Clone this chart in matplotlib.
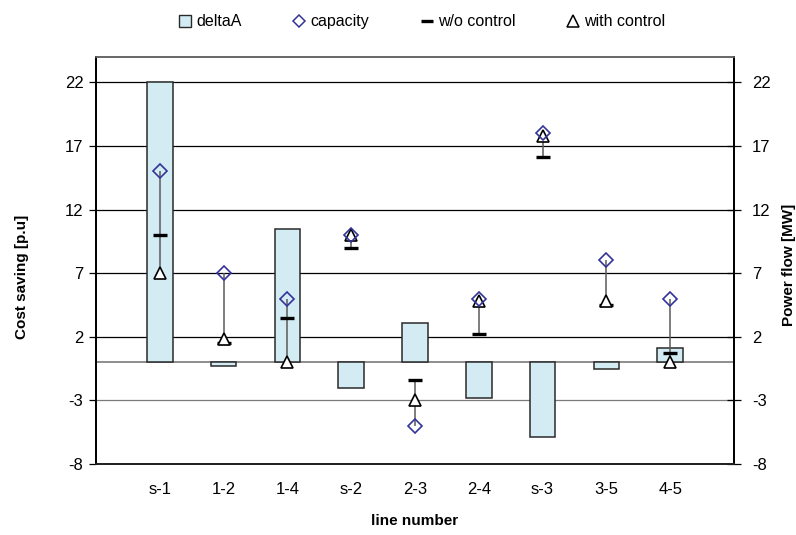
import matplotlib
matplotlib.use("Agg")
import matplotlib.pyplot as plt
import numpy as np
from matplotlib.lines import Line2D
from matplotlib.patches import Patch

plt.rcParams['font.family'] = ['Liberation Sans', 'DejaVu Sans']
plt.rcParams['axes.unicode_minus'] = False

# Line identifiers
lines = ["s-1", "1-2", "1-4", "s-2", "2-3", "2-4", "s-3", "3-5", "4-5"]

# Cost saving per line [p.u] (bars, left axis)
delta_a = [22.0, -0.3, 10.5, -2.0, 3.1, -2.8, -5.9, -0.5, 1.1]

# Power flow quantities per line [MW] (right axis)
capacity = [15.0, 7.0, 5.0, 10.0, -5.0, 5.0, 18.0, 8.0, 5.0]
without_control = [10.0, 1.5, 3.5, 9.0, -1.4, 2.2, 16.1, 4.5, 0.7]
with_control = [7.0, 1.8, 0.0, 10.0, -3.0, 4.8, 17.8, 4.8, 0.0]

y_ticks = [-8, -3, 2, 7, 12, 17, 22]
y_limits = (-8, 24)

fig = plt.figure(figsize=(7.96, 5.35), dpi=100)
ax = fig.add_axes([0.1206, 0.1327, 0.8015, 0.7608])
ax2 = ax.twinx()

x = np.arange(1, len(lines) + 1)

# horizontal grid
for t in y_ticks[1:]:
    col = "black" if t > 0 else "#7a7a7a"
    ax.axhline(t, color=col, lw=0.9, zorder=0)
ax.axhline(0, color="#7a7a7a", lw=1.2, zorder=0.5)

ax.bar(x, delta_a, width=0.4, color="#D3ECF3", edgecolor="#2a2a2a",
       linewidth=1.1, zorder=2)

ax.set_xlim(0, len(lines) + 1)
ax.set_ylim(*y_limits)
ax.set_yticks(y_ticks)
ax.set_xticks(x)
ax.set_xticklabels(lines)
ax.tick_params(axis="x", length=0, pad=13, labelsize=12)
ax.tick_params(axis="y", direction="out", length=5, width=0.9, labelsize=12, pad=4)

ax2.set_ylim(*y_limits)
ax2.set_yticks(y_ticks)
ax2.tick_params(axis="y", direction="inout", length=10, width=0.9, labelsize=12, pad=8)

# high-low connectors across the three flow series
cap = np.array(capacity)
wo = np.array(without_control)
wc = np.array(with_control)
hi = np.maximum.reduce([cap, wo, wc])
lo = np.minimum.reduce([cap, wo, wc])
ax2.vlines(x, lo, hi, color="#5a5a5a", lw=1.1, zorder=3)

ax2.plot(x, wo, linestyle="none", marker="_", markersize=9.5,
         markeredgewidth=2.4, color="black", zorder=4)
ax2.plot(x, wc, linestyle="none", marker="^", markersize=8.5,
         markerfacecolor="white", markeredgecolor="black",
         markeredgewidth=1.2, zorder=5)
ax2.plot(x, cap, linestyle="none", marker="D", markersize=7.2,
         markerfacecolor="none", markeredgecolor="#333399",
         markeredgewidth=1.2, zorder=6)

for a in (ax, ax2):
    a.spines["top"].set_color("#666666")
    a.spines["top"].set_linewidth(1.2)
    a.spines["left"].set_linewidth(1.3)
    a.spines["right"].set_linewidth(1.3)
    a.spines["bottom"].set_linewidth(1.3)
    a.spines["bottom"].set_color("#222222")

ax.set_ylabel("Cost saving [p.u]", fontsize=11, fontweight="bold", labelpad=26)
ax.yaxis.label.set_y(0.46)
ax2.set_ylabel("Power flow [MW]", fontsize=11, fontweight="bold", labelpad=8)
ax2.yaxis.label.set_y(0.49)
ax.set_xlabel("line number", fontsize=11, fontweight="bold", labelpad=12)

handles = [
    Patch(facecolor="#D3ECF3", edgecolor="#2a2a2a", linewidth=1.0),
    Line2D([], [], linestyle="none", marker="D", markersize=6,
           markerfacecolor="none", markeredgecolor="#333399", markeredgewidth=1.1),
    Line2D([], [], linestyle="none", marker="_", markersize=9,
           markeredgewidth=2.4, color="black"),
    Line2D([], [], linestyle="none", marker="^", markersize=8,
           markerfacecolor="white", markeredgecolor="black", markeredgewidth=1.1),
]
labels = ["deltaA", "capacity", "w/o control", "with control"]
fig.legend(handles, labels, loc="upper center", bbox_to_anchor=(0.53, 1.0),
           ncol=4, frameon=False, fontsize=11.5, handlelength=0.8,
           handleheight=0.8, handletextpad=0.3, columnspacing=3.2)

fig.savefig("out.png", dpi=100)
